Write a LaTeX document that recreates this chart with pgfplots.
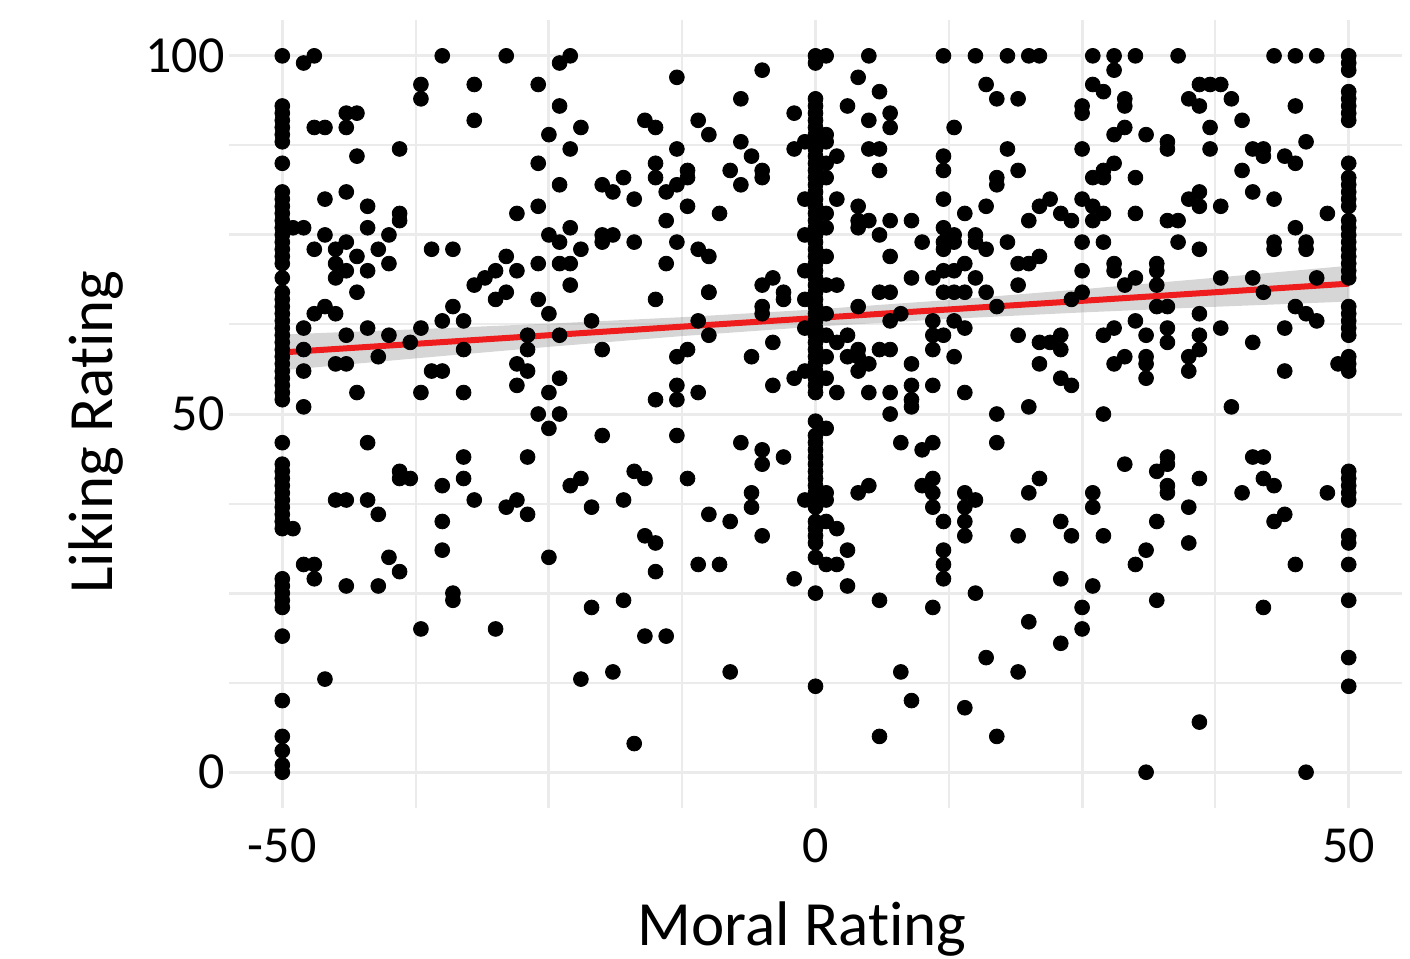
\documentclass[border=0pt]{standalone}
\usepackage{fontspec}
\setmainfont{Carlito}[Ligatures=NoCommon]
\usepackage{pgfplots}
\usepackage{pgfplotstable}
\pgfplotsset{compat=1.18}
\definecolor{gridc}{RGB}{235,235,235}
\definecolor{bandc}{RGB}{153,153,153}
\definecolor{fitc}{RGB}{238,28,28}

\pgfplotstableread{
x y
-50 100
-50 93
-50 92
-50 91
-50 90
-50 89
-50 88
-50 85
-50 81
-50 80
-50 79
-50 78
-50 77
-50 76
-50 75
-50 74
-50 73
-50 72
-50 71
-50 69
-50 67
-50 66
-50 65
-50 64
-50 63
-50 62
-50 61
-50 60
-50 59
-50 58
-50 57
-50 56
-50 55
-50 54
-50 53
-50 52
-50 46
-50 43
-50 42
-50 41
-50 40
-50 39
-50 38
-50 37
-50 36
-50 35
-50 34
-50 27
-50 26
-50 25
-50 24
-50 23
-50 19
-50 10
-50 5
-50 3
-50 1
-50 0
}\colA

\pgfplotstableread{
x y
0 100
0 99
0 94
0 93
0 92
0 91
0 90
0 89
0 88
0 87
0 86
0 85
0 84
0 83
0 82
0 81
0 80
0 79
0 78
0 77
0 76
0 75
0 74
0 73
0 72
0 71
0 70
0 69
0 68
0 67
0 66
0 65
0 64
0 63
0 62
0 61
0 60
0 59
0 58
0 57
0 56
0 55
0 54
0 53
0 49
0 47
0 46
0 45
0 44
0 43
0 42
0 41
0 40
0 39
0 38
0 37
0 35
0 34
0 33
0 32
0 30
0 25
0 12
-1 88
-1 80
-1 75
-1 70
-1 66
-1 62
1 85
1 78
1 72
1 68
1 64
1 100
}\colB

\pgfplotstableread{
x y
50 100
50 99
50 98
50 95
50 94
50 93
50 92
50 91
50 85
50 83
50 82
50 81
50 80
50 79
50 77
50 76
50 75
50 74
50 73
50 72
50 71
50 70
50 69
50 65
50 64
50 63
50 62
50 61
50 58
50 57
50 56
50 42
50 41
50 40
50 39
50 38
50 33
50 32
50 29
50 24
50 16
50 12
}\colC

\pgfplotstableread{
x y
-48 99
-47 100
-35 100
-29 100
-37 96
-37 94
-32 96
-32 91
-26 96
-44 92
-43 92
-44 90
-47 90
-46 90
-43 86
-39 87
-26 85
-46 80
-44 81
-42 79
-39 78
-39 77
-42 76
-49 76
-48 76
-46 75
-47 73
-45 73
-44 74
-45 71
-44 70
-45 69
-43 72
-42 70
-41 73
-40 75
-40 71
-43 67
-36 73
-34 73
-28 78
-26 79
-26 71
-29 72
-28 70
-32 68
-31 69
-30 70
-29 67
-24 99
-23 100
-13 97
-5 98
-7 94
-24 93
-16 91
-15 90
-11 91
-10 89
-2 92
-22 90
-25 89
-23 87
-13 87
-7 88
-6 86
-5 84
-5 83
-2 87
-8 84
-7 82
-15 85
-15 83
-12 84
-12 83
-13 82
-14 81
-18 83
-20 82
-19 81
-17 80
-24 82
-12 79
-9 78
-14 77
-23 76
-25 75
-24 74
-22 73
-20 75
-19 75
-20 74
-17 74
-13 74
-11 73
-10 72
-14 71
-24 71
-23 71
-23 68
-5 68
-4 69
-10 67
-3 67
5 100
12 100
15 100
18 100
20 100
21 100
26 100
4 97
6 95
3 93
16 96
17 94
19 94
26 96
25 93
25 92
5 91
7 92
7 90
13 90
5 87
6 87
6 84
12 86
12 84
18 87
19 84
17 83
17 82
25 87
26 83
12 80
16 79
14 78
4 79
4 77
5 77
4 76
6 75
7 77
9 77
21 79
22 80
23 78
24 77
20 77
25 80
26 79
26 77
10 74
12 76
12 74
12 73
13 75
13 74
15 75
15 74
16 73
18 74
7 72
19 71
20 71
21 72
25 74
25 70
9 69
11 69
12 70
13 70
14 71
15 69
6 67
7 67
12 67
13 67
14 67
16 67
19 68
2 68
1 89
1 88
2 86
1 83
2 80
1 76
28 100
28 98
30 100
34 100
43 100
45 100
47 100
27 95
29 94
29 93
36 96
37 96
38 96
35 94
36 93
39 94
40 91
45 93
28 89
29 90
31 89
33 88
33 87
37 90
37 87
41 87
42 87
42 86
44 86
45 85
46 88
28 85
27 84
27 83
30 83
40 84
41 81
43 80
35 80
36 81
36 79
38 79
27 78
30 78
33 77
34 77
48 78
45 76
46 74
46 73
43 74
43 73
27 74
34 74
36 73
28 71
28 70
32 71
32 70
30 69
29 68
32 68
38 69
41 69
47 69
-47 64
-46 65
-45 64
-48 62
-48 59
-48 56
-44 61
-45 57
-44 57
-42 62
-41 58
-40 61
-38 60
-37 62
-35 63
-34 65
-33 63
-33 59
-36 56
-35 56
-43 53
-37 53
-33 53
-48 51
-30 66
-26 66
-27 61
-27 59
-28 57
-27 56
-28 54
-26 50
-25 48
-42 46
-39 42
-38 41
-39 41
-33 44
-33 41
-35 40
-27 44
-45 38
-44 38
-42 38
-41 36
-32 38
-29 37
-28 38
-27 36
-35 35
-49 34
-15 66
-10 67
-25 64
-21 63
-24 61
-20 59
-11 63
-10 61
-5 65
-5 64
-3 66
-13 58
-12 59
-6 58
-4 60
-24 55
-25 53
-24 50
-15 52
-13 54
-13 52
-11 53
-4 54
-2 55
-1 56
-20 47
-13 47
-7 46
-5 45
-5 43
-3 44
-23 40
-22 41
-17 42
-16 41
-12 41
-21 37
-18 38
-6 39
-6 37
-10 36
-8 35
-5 33
-16 33
-15 32
-1 38
4 65
17 65
7 63
8 64
11 63
13 63
14 62
24 66
25 67
11 61
12 61
3 61
1 61
2 60
4 59
3 58
4 58
5 57
4 56
6 59
7 59
1 58
11 59
13 58
9 57
19 61
21 60
22 60
23 61
23 59
21 57
23 55
24 54
1 55
2 53
5 53
7 53
9 54
9 52
9 51
11 54
14 53
7 50
17 50
20 51
1 48
8 46
10 45
11 46
17 46
4 39
5 40
1 39
1 38
10 40
11 41
11 39
11 37
12 35
14 39
15 38
14 37
14 35
14 33
21 41
20 39
23 35
24 33
19 33
26 39
26 37
1 35
2 34
32 65
33 65
36 64
45 65
46 64
47 63
42 67
28 62
27 61
30 63
31 61
33 62
33 60
36 61
36 59
35 58
35 56
38 62
41 60
44 62
44 56
49 57
28 57
29 58
31 58
31 57
31 55
27 50
39 51
29 43
32 42
33 44
33 43
33 40
33 39
36 41
41 44
42 44
42 41
43 40
40 39
48 39
35 37
32 35
43 35
44 36
27 33
-48 29
-47 29
-47 27
-44 26
-41 26
-40 30
-39 28
-35 31
-34 25
-34 24
-37 20
-30 20
-46 13
-25 30
-15 28
-11 29
-9 29
-2 27
1 29
-21 23
-18 24
-16 19
-14 19
-22 13
-19 14
-8 14
-17 4
2 29
3 31
3 26
6 24
11 23
12 31
12 29
12 27
15 25
23 27
26 26
25 23
25 20
20 21
23 18
16 16
19 14
8 14
9 10
14 9
6 5
17 5
31 31
30 29
35 32
32 24
45 29
42 23
36 7
31 0
46 0
}\rest

\begin{document}
\begin{tikzpicture}
\begin{axis}[
  scale only axis, width=586.5pt, height=394pt,
  xmin=-55, xmax=55, ymin=-5, ymax=105,
  axis line style={draw=none},
  xtick={-50,-25,0,25,50}, xticklabels={-50,,0,,50},
  minor xtick={-37.5,-12.5,12.5,37.5},
  ytick={0,25,50,75,100}, yticklabels={0,,50,,100},
  minor ytick={12.5,37.5,62.5,87.5},
  major tick length=0pt, minor tick length=0pt,
  grid=both,
  major grid style={line width=1.5pt, color=gridc},
  minor grid style={line width=1pt, color=gridc},
  ticklabel style={font=\fontsize{26}{31}\selectfont, inner sep=0pt, text=black},
  xticklabel style={anchor=north, yshift=-10pt},
  yticklabel style={anchor=east, xshift=-2pt},
  xlabel={Moral Rating}, ylabel={Liking Rating},
  label style={font=\fontsize{31.5}{38}\selectfont, inner sep=0pt},
  xlabel style={at={(axis description cs:0.4885,-0.1739)}, anchor=base},
  ylabel style={at={(axis description cs:-0.0989,0.477)}, anchor=base},
]
\addplot[only marks, mark=*, mark size=3.7pt, black] table {\colA};
\addplot[only marks, mark=*, mark size=3.7pt, black] table {\colB};
\addplot[only marks, mark=*, mark size=3.7pt, black] table {\colC};
\addplot[only marks, mark=*, mark size=3.7pt, black] table {\rest};
\addplot[draw=none, fill=bandc, fill opacity=0.4] coordinates {
  (-50,61.1) (-37.5,61.83) (-25,62.62) (-12.5,63.52) (0,64.6) (12.5,65.92) (25,67.42) (37.5,69.03) (50,70.7)
  (50,65.7) (37.5,64.97) (25,64.18) (12.5,63.28) (0,62.2) (-12.5,60.88) (-25,59.38) (-37.5,57.77) (-50,56.1)
} -- cycle;
\addplot[fitc, line width=3pt] coordinates {(-50,58.6) (50,68.2)};
\coordinate (bl) at (rel axis cs:-0.1952,-0.1904);
\coordinate (tr) at (rel axis cs:1.0068,1.0254);
\end{axis}
\pgfresetboundingbox
\path (bl) rectangle (tr);
\end{tikzpicture}
\end{document}
